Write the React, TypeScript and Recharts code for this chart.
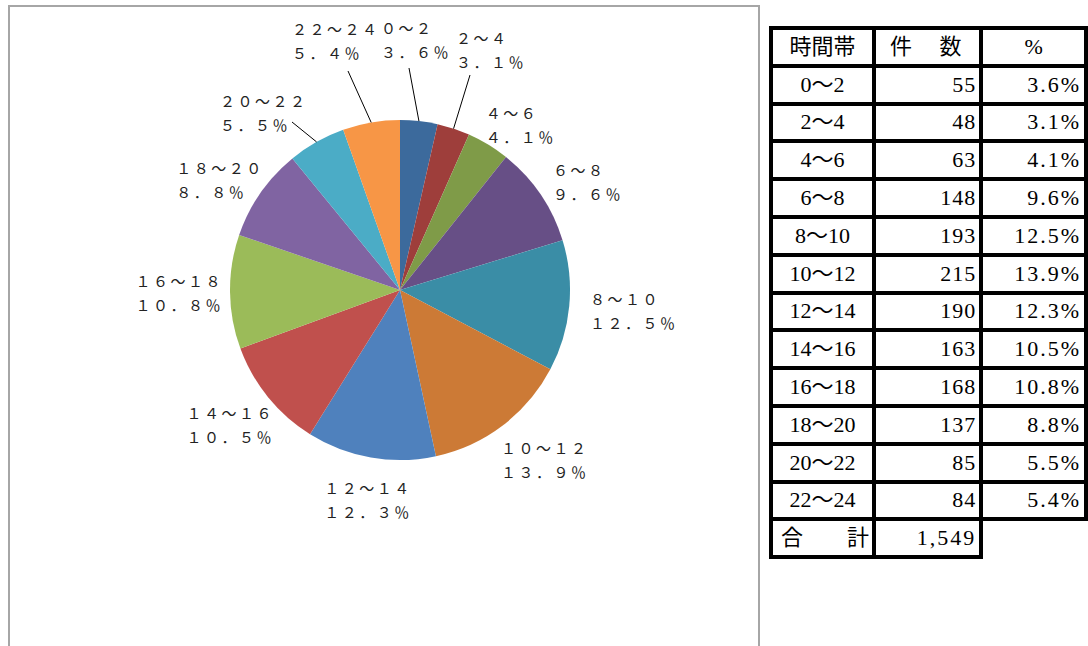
import { PieChart, Pie, Cell } from "recharts"

const hours = ["0～2", "2～4", "4～6", "6～8", "8～10", "10～12", "12～14", "14～16", "16～18", "18～20", "20～22", "22～24"]
const counts = [55, 48, 63, 148, 193, 215, 190, 163, 168, 137, 85, 84]
const colors = [
  "#3C6A9C", "#9E3E3B", "#7F9B48", "#674F86", "#3A8DA6", "#CC7A36",
  "#4F81BD", "#C0504D", "#9BBB59", "#8064A2", "#4BACC6", "#F79646",
]

const total = counts.reduce((a, b) => a + b, 0)
const pct = (v: number) => ((v / total) * 100).toFixed(1) + "%"
const toWide = (s: string) => s.replace(/[0-9.%]/g, (c) => String.fromCharCode(c.charCodeAt(0) + 0xfee0))

const chartData = hours.map((h, i) => ({ name: h, value: counts[i] }))

// labels Excel had dragged away from the slice, with leader lines (offsets from pie centre)
const movedLabels: Record<number, { dx: number; dy: number; lx: number; ly: number }> = {
  0: { dx: -19, dy: -263, lx: 9, ly: -222 },
  1: { dx: 56, dy: -253, lx: 70, ly: -215 },
  10: { dx: -180, dy: -190, lx: -108, ly: -168 },
  11: { dx: -108, dy: -262, lx: -52, ly: -219 },
}

const CH = 17.5
const LINE = 24

function renderLabel(props: any) {
  const { cx, cy, midAngle, outerRadius, index } = props
  const rad = Math.PI / 180
  const ux = Math.cos(-midAngle * rad)
  const uy = Math.sin(-midAngle * rad)
  const l1 = toWide(hours[index])
  const l2 = toWide(pct(counts[index]))
  const w = Math.max(l1.length, l2.length) * CH
  let left: number
  let y1: number
  const moved = movedLabels[index]
  if (moved) {
    left = cx + moved.dx
    y1 = cy + moved.dy
  } else {
    const r = outerRadius + 14
    const halfH = uy > 0 ? 28 : 10
    left = cx + 7 + ux * r + (ux * w) / 2 - w / 2
    y1 = cy + uy * (r + halfH) - LINE / 2
  }
  return (
    <g>
      {moved && (
        <line
          x1={cx + moved.lx}
          y1={cy + moved.ly}
          x2={cx + ux * outerRadius}
          y2={cy + uy * outerRadius}
          stroke="#000"
          strokeWidth={1}
        />
      )}
      <text
        x={left}
        y={y1}
        fill="#222"
        fontSize={15}
        letterSpacing={2.5}
        dominantBaseline="central"
        style={{ fontFamily: "'Noto Sans CJK JP', sans-serif" }}
      >
        <tspan x={left} y={y1}>{l1}</tspan>
        <tspan x={left} y={y1 + LINE}>{l2}</tspan>
      </text>
    </g>
  )
}

const cell: React.CSSProperties = {
  border: "4px solid #000",
  height: 33.8,
  lineHeight: 1,
  padding: "0 3px",
  whiteSpace: "nowrap",
}

export default function App() {
  return (
    <div style={{ position: "absolute", left: 0, top: 0, width: 1088, height: 646, overflow: "hidden", background: "#fff" }}>
      <div
        style={{
          position: "absolute",
          left: 8,
          top: 5,
          width: 748,
          height: 700,
          border: "2px solid #A6A6A6",
        }}
      />
      <div style={{ position: "absolute", left: 0, top: 0 }}>
        <PieChart width={760} height={646} margin={{ top: 0, right: 0, bottom: 0, left: 0 }}>
          <Pie
            data={chartData}
            dataKey="value"
            nameKey="name"
            cx={400}
            cy={290}
            outerRadius={170}
            startAngle={90}
            endAngle={-270}
            stroke="none"
            label={renderLabel}
            labelLine={false}
            isAnimationActive={false}
          >
            {chartData.map((d, i) => (
              <Cell key={d.name} fill={colors[i]} />
            ))}
          </Pie>
        </PieChart>
      </div>
      <table
        style={{
          position: "absolute",
          left: 769,
          top: 26,
          borderCollapse: "collapse",
          fontFamily: "'Liberation Serif', 'Noto Sans CJK JP', serif",
          fontSize: 22,
          color: "#000",
        }}
      >
        <tbody>
          <tr>
            <td style={{ ...cell, width: 87, textAlign: "center" }}>時間帯</td>
            <td style={{ ...cell, width: 93, textAlign: "left", paddingLeft: 14 }}>件　 数</td>
            <td style={{ ...cell, width: 108, textAlign: "center" }}>%</td>
          </tr>
          {hours.map((h, i) => (
            <tr key={h}>
              <td style={{ ...cell, textAlign: "center" }}>{h}</td>
              <td style={{ ...cell, textAlign: "right", letterSpacing: 1 }}>{counts[i]}</td>
              <td style={{ ...cell, textAlign: "right", letterSpacing: 2 }}>{pct(counts[i])}</td>
            </tr>
          ))}
          <tr>
            <td style={{ ...cell, textAlign: "left", paddingLeft: 8 }}>合　　計</td>
            <td style={{ ...cell, textAlign: "right", letterSpacing: 2 }}>{total.toLocaleString("en-US")}</td>
            <td style={{ ...cell, border: "none" }}></td>
          </tr>
        </tbody>
      </table>
    </div>
  )
}
